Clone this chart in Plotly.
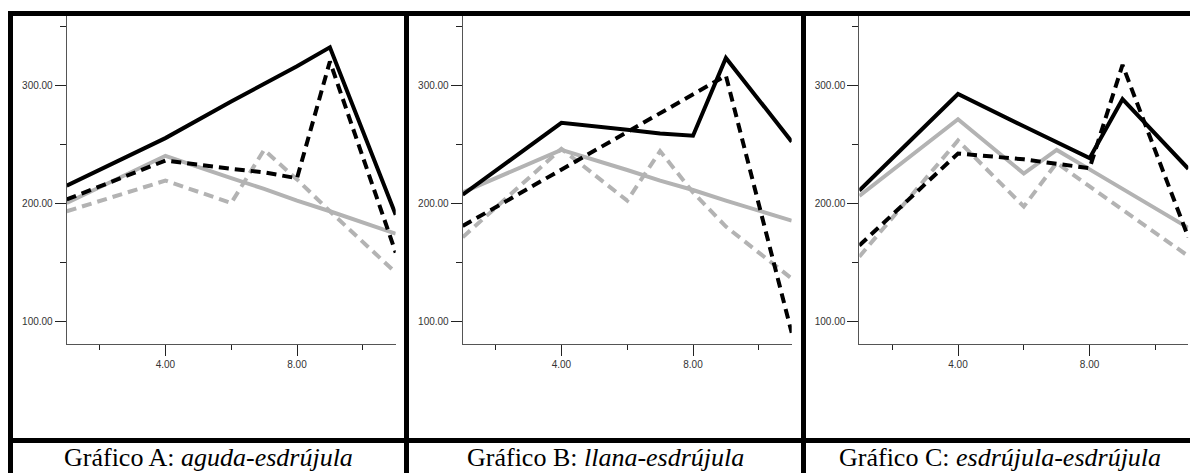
import plotly.graph_objects as go

W, H = 1190, 473

# ---- data ----
x_pts = [1, 4, 6, 7, 8, 9, 11]
x_pts_b_gray_dash = [1, 4, 6, 7, 8, 9, 10, 11]

# Panel A: aguda-esdrújula
a_black_solid = [214.7, 255, 286, 301, 316, 332, 190]
a_black_dash = [203, 236, 229, 226, 221, 320, 158]
a_gray_solid = [200, 240, 221, 212, 202, 193, 174]
a_gray_dash = [193, 219, 200, 245, 220, 193, 141]

# Panel B: llana-esdrújula
b_black_solid = [207, 268, 262, 259, 257, 323, 252]
b_black_dash = [180.5, 228, 260, 276, 292, 308, 90]
b_gray_solid = [209, 245, 228, 219, 211, 202, 185]
b_gray_dash = [171, 246, 202, 244, 209, 180, 158, 136]

# Panel C: esdrújula-esdrújula
c_black_solid = [210.5, 292.4, 265, 251.5, 238, 288, 229]
c_black_dash = [164, 242, 237, 233.5, 229.5, 317, 171]
c_gray_solid = [206, 271, 225, 245, 228.5, 212, 179]
c_gray_dash = [154.5, 253, 197, 234, 214, 194, 155]

captions_regular = ["Gráfico A: ", "Gráfico B: ", "Gráfico C: "]
captions_italic = ["aguda-esdrújula", "llana-esdrújula", "esdrújula-esdrújula"]

x_range = [1, 11]
y_range = [80.25, 358.5]

# ---- layout helpers ----
def PX(px):
    return px / W

def PY(py):
    return 1 - py / H

x_domains = [(66.7, 395.7), (462.7, 791.7), (859.3, 1188.3)]
y_domain = (16, 344.3)
col_centers = [208.5, 605, 1000]

BLACK = "#000000"
GRAY = "#b3b3b3"
DASH = "10px,6px"
LW = 4

panels = [
    [(x_pts, a_black_solid, BLACK, "solid"), (x_pts, a_gray_solid, GRAY, "solid"),
     (x_pts, a_gray_dash, GRAY, DASH), (x_pts, a_black_dash, BLACK, DASH)],
    [(x_pts, b_gray_solid, GRAY, "solid"), (x_pts_b_gray_dash, b_gray_dash, GRAY, DASH),
     (x_pts, b_black_solid, BLACK, "solid"), (x_pts, b_black_dash, BLACK, DASH)],
    [(x_pts, c_gray_solid, GRAY, "solid"), (x_pts, c_gray_dash, GRAY, DASH),
     (x_pts, c_black_solid, BLACK, "solid"), (x_pts, c_black_dash, BLACK, DASH)],
]

fig = go.Figure()
layout = dict(
    width=W, height=H,
    margin=dict(l=0, r=0, t=0, b=0, pad=0),
    paper_bgcolor="white", plot_bgcolor="white",
    showlegend=False,
)

tick_font = dict(family="Liberation Sans, Arial, sans-serif", size=10, color="#333333")

for i, series in enumerate(panels):
    sfx = "" if i == 0 else str(i + 1)
    for xs, ys, col, dash in series:
        fig.add_trace(go.Scatter(
            x=xs, y=ys, mode="lines",
            line=dict(color=col, width=LW, dash=dash),
            xaxis="x" + sfx, yaxis="y" + sfx, hoverinfo="skip",
        ))
    layout["xaxis" + sfx] = dict(
        domain=[PX(x_domains[i][0]), PX(x_domains[i][1])],
        range=x_range, anchor="y" + sfx,
        showgrid=False, zeroline=False,
        showline=True, linecolor="#555555", linewidth=1,
        tickmode="linear", tick0=0, dtick=4, tickformat=".2f",
        ticks="outside", ticklen=11, tickwidth=1, tickcolor="#222222",
        minor=dict(tickmode="linear", tick0=0, dtick=2, ticks="outside",
                   ticklen=5, tickwidth=1, tickcolor="#222222", showgrid=False),
        tickfont=tick_font,
    )
    layout["yaxis" + sfx] = dict(
        domain=[PY(y_domain[1]), PY(y_domain[0])],
        range=y_range, anchor="x" + sfx,
        showgrid=False, zeroline=False,
        showline=True, linecolor="#555555", linewidth=1,
        tickmode="linear", tick0=0, dtick=100, tickformat=".2f",
        ticks="outside", ticklen=11, tickwidth=1, tickcolor="#222222",
        minor=dict(tickmode="linear", tick0=0, dtick=50, ticks="outside",
                   ticklen=6, tickwidth=1, tickcolor="#222222", showgrid=False),
        tickfont=tick_font,
    )

# table borders
shapes = []
def bar(x0, y0, x1, y1):
    shapes.append(dict(type="rect", xref="paper", yref="paper",
                       x0=PX(x0), x1=PX(x1), y0=PY(y1), y1=PY(y0),
                       fillcolor="black", line=dict(width=0), layer="above"))

bar(8, 11, 1200, 16)      # top border
bar(8, 438, 1200, 443)    # separator between charts and captions
for xv in (8, 404, 801, 1194):
    bar(xv, 11, xv + 5, 480)
layout["shapes"] = shapes

annotations = []
for i in range(3):
    annotations.append(dict(
        xref="paper", yref="paper", x=PX(col_centers[i]), y=PY(457),
        xanchor="center", yanchor="middle", showarrow=False,
        text=captions_regular[i] + "<i>" + captions_italic[i] + "</i>",
        font=dict(family="Liberation Serif, Times New Roman, serif", size=26, color="black"),
    ))
layout["annotations"] = annotations

fig.update_layout(**layout)
fig.write_html("out.html")
